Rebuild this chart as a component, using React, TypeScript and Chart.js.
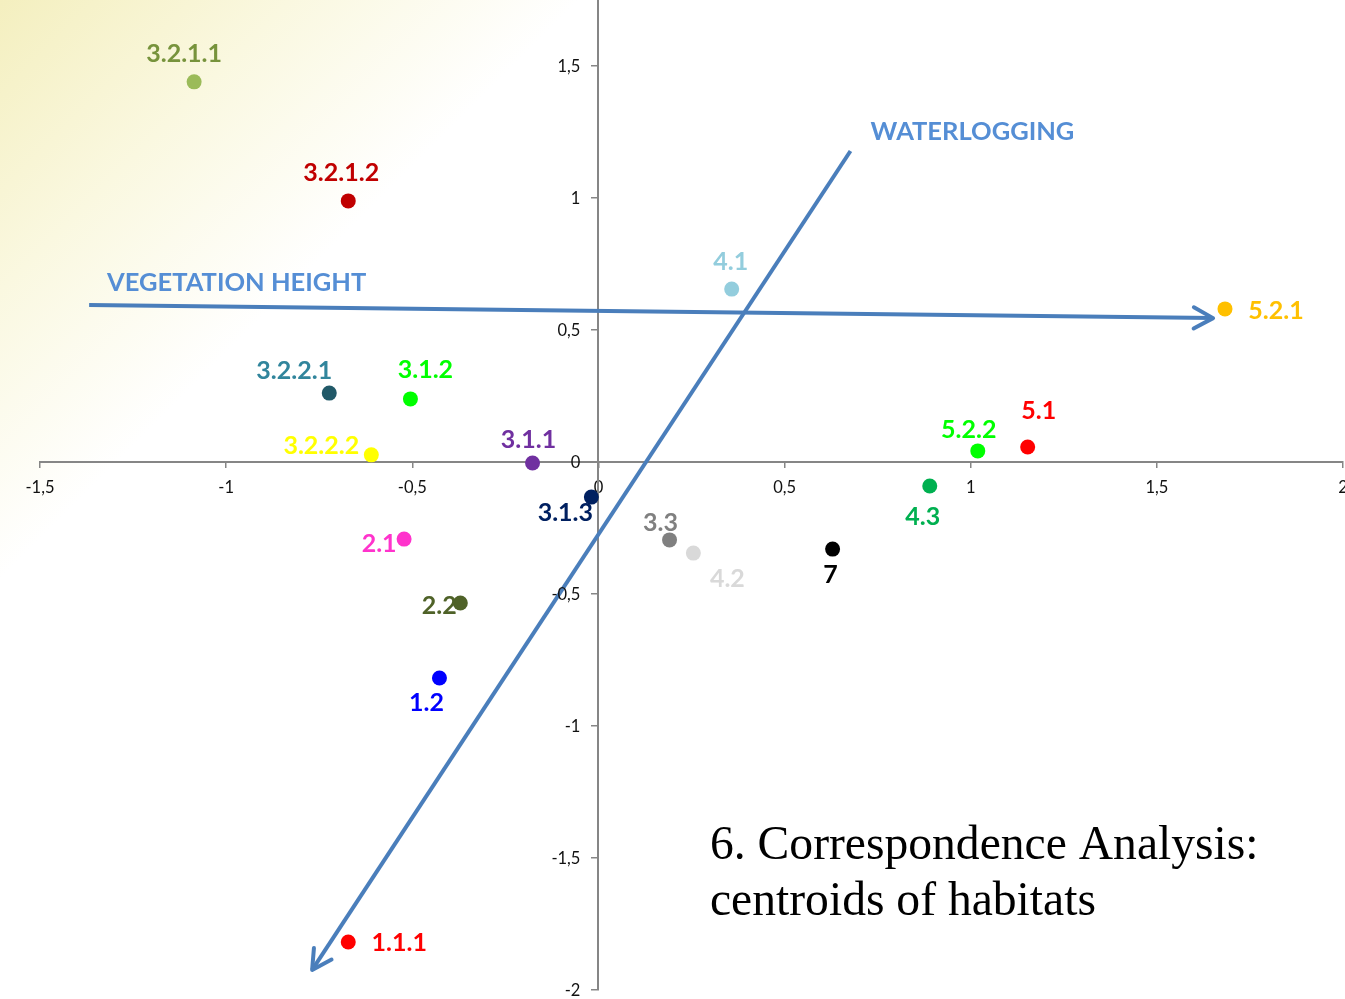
import React, { useEffect, useRef } from "react";
import { Chart, registerables } from "chart.js";

Chart.register(...registerables);

// ---- data ----
const habitatLabels = [
  "3.2.1.1", "3.2.1.2", "4.1", "5.2.1", "3.2.2.1", "3.1.2", "3.2.2.2", "3.1.1", "3.1.3",
  "5.2.2", "5.1", "4.3", "3.3", "4.2", "7", "2.1", "2.2", "1.2", "1.1.1",
];
const dim1 = [
  -1.086, -0.672, 0.358, 1.683, -0.723, -0.505, -0.61, -0.177, -0.019,
  1.019, 1.153, 0.89, 0.191, 0.255, 0.629, -0.522, -0.371, -0.427, -0.672,
];
const dim2 = [
  1.44, 0.989, 0.655, 0.58, 0.261, 0.239, 0.027, -0.004, -0.133,
  0.042, 0.057, -0.091, -0.295, -0.345, -0.33, -0.292, -0.534, -0.818, -1.818,
];
const vegetationArrowX = [-1.368, 1.651];
const vegetationArrowY = [0.595, 0.545];
const waterloggingArrowX = [0.677, -0.769];
const waterloggingArrowY = [1.178, -1.924];
const arrowNames = ["VEGETATION HEIGHT", "WATERLOGGING"];
const arrowNameX = [-1.32, 0.731];
const arrowNameY = [0.678, 1.25];
const xTickStep = 0.5;
const yTickStep = 0.5;
const titleLines = ["6. Correspondence Analysis:", "centroids of habitats"];

// ---- styles ----
const pointColors = [
  "#9BBB59", "#C00000", "#93CDDD", "#FFC000", "#215968", "#00FF00", "#FFFF00", "#7030A0", "#002060",
  "#00FF00", "#FF0000", "#00B050", "#808080", "#D9D9D9", "#000000", "#FF33CC", "#4F6228", "#0000FF", "#FF0000",
];
const labelColors = [
  "#77933C", "#C00000", "#93CDDD", "#FFC000", "#31859C", "#00FF00", "#FFFF00", "#7030A0", "#002060",
  "#00FF00", "#FF0000", "#00B050", "#808080", "#D9D9D9", "#000000", "#FF33CC", "#4F6228", "#0000FF", "#FF0000",
];
const labelOffsets: [number, number][] = [
  [-10, -28], [-7, -28], [-1, -27], [51, 2], [-35, -22], [15, -29], [-50, -9], [-4, -23], [-26, 16],
  [-9, -21], [11, -36], [-7, 31], [-9, -17], [34, 26], [-2, 26], [-25, 5], [-21, 3], [-13, 25], [51, 1],
];

const OFF = 20;
const W = 1345 + 2 * OFF;
const H = 999 + 2 * OFF;
const ARROW = "#4A7EBB";
const TICK_FONT = "16.5px Lato";
const fmt = (v: number) => String(Math.round(v * 100) / 100).replace(".", ",");

export default function App() {
  const ref = useRef<HTMLCanvasElement | null>(null);

  useEffect(() => {
    if (!ref.current) return;

    const bgPlugin = {
      id: "bg",
      beforeDraw(chart: any) {
        const ctx = chart.ctx;
        ctx.save();
        const g = ctx.createLinearGradient(OFF, OFF, OFF + 290, OFF + 290);
        g.addColorStop(0, "#F4EFBF");
        g.addColorStop(0.5, "#FAF8E0");
        g.addColorStop(1, "#FFFFFF");
        ctx.fillStyle = "#FFFFFF";
        ctx.fillRect(0, 0, W, H);
        ctx.fillStyle = g;
        ctx.fillRect(0, 0, W, H);
        ctx.restore();
      },
    };

    const overlayPlugin = {
      id: "overlay",
      afterDatasetsDraw(chart: any) {
        const ctx = chart.ctx;
        const xs = chart.scales.x;
        const ys = chart.scales.y;
        ctx.save();
        // y tick labels (left of the centred axis)
        const axisX = xs.getPixelForValue(0);
        ctx.font = TICK_FONT;
        ctx.fillStyle = "#111111";
        ctx.textAlign = "right";
        ctx.textBaseline = "middle";
        for (const t of ys.ticks) {
          ctx.fillText(fmt(t.value), axisX - 18, ys.getPixelForValue(t.value) + 1);
        }
        // arrowheads
        const heads = [
          [vegetationArrowX, vegetationArrowY],
          [waterloggingArrowX, waterloggingArrowY],
        ];
        ctx.strokeStyle = ARROW;
        ctx.lineWidth = 4;
        ctx.lineCap = "round";
        ctx.lineJoin = "round";
        for (const [ax, ay] of heads) {
          const x0 = xs.getPixelForValue(ax[0]);
          const y0 = ys.getPixelForValue(ay[0]);
          const x1 = xs.getPixelForValue(ax[1]);
          const y1 = ys.getPixelForValue(ay[1]);
          const ang = Math.atan2(y1 - y0, x1 - x0);
          const len = 22;
          const spread = 0.5;
          ctx.beginPath();
          ctx.moveTo(x1 - len * Math.cos(ang - spread), y1 - len * Math.sin(ang - spread));
          ctx.lineTo(x1, y1);
          ctx.lineTo(x1 - len * Math.cos(ang + spread), y1 - len * Math.sin(ang + spread));
          ctx.stroke();
        }
        // arrow names
        ctx.font = "bold 25.5px Lato";
        ctx.fillStyle = "#558ED5";
        ctx.textAlign = "left";
        ctx.textBaseline = "middle";
        arrowNames.forEach((n, i) => {
          ctx.fillText(n, xs.getPixelForValue(arrowNameX[i]), ys.getPixelForValue(arrowNameY[i]));
        });
        // point labels
        ctx.font = "bold 25px Lato";
        ctx.textAlign = "center";
        const meta = chart.getDatasetMeta(0);
        habitatLabels.forEach((lab, i) => {
          const el = meta.data[i];
          ctx.fillStyle = labelColors[i];
          ctx.fillText(lab, el.x + labelOffsets[i][0], el.y + labelOffsets[i][1]);
        });
        // title
        ctx.font = "47.6px 'Liberation Serif'";
        ctx.fillStyle = "#000000";
        ctx.textAlign = "left";
        ctx.textBaseline = "alphabetic";
        ctx.fillText(titleLines[0], OFF + 710, OFF + 859);
        ctx.fillText(titleLines[1], OFF + 710, OFF + 915);
        ctx.restore();
      },
    };

    const chart = new Chart(ref.current, {
      type: "scatter",
      data: {
        datasets: [
          {
            data: dim1.map((x, i) => ({ x, y: dim2[i] })),
            backgroundColor: pointColors,
            borderWidth: 0,
            pointRadius: 7.5,
            order: 1,
          },
          {
            data: vegetationArrowX.map((x, i) => ({ x, y: vegetationArrowY[i] })),
            showLine: true,
            borderColor: ARROW,
            borderWidth: 4,
            pointRadius: 0,
            order: 0,
          } as any,
          {
            data: waterloggingArrowX.map((x, i) => ({ x, y: waterloggingArrowY[i] })),
            showLine: true,
            borderColor: ARROW,
            borderWidth: 4,
            pointRadius: 0,
            order: 0,
          } as any,
        ],
      },
      options: {
        animation: false,
        responsive: false,
        devicePixelRatio: 1,
        layout: { padding: { left: OFF + 40, top: OFF, right: OFF + 2, bottom: OFF + 9 } },
        plugins: { legend: { display: false }, tooltip: { enabled: false } },
        scales: {
          x: {
            type: "linear",
            min: -1.5,
            max: 2,
            position: { y: 0 } as any,
            ticks: {
              stepSize: xTickStep,
              includeBounds: false,
              callback: (v: any) => fmt(Number(v)),
              color: "#111111",
              font: { family: "Lato", size: 16.5 },
              padding: 11,
              maxRotation: 0,
              autoSkip: false,
            },
            grid: { drawOnChartArea: false, drawTicks: true, tickLength: 5, color: "#868686", lineWidth: 1.5 },
            border: { display: true, color: "#868686", width: 2 },
          },
          y: {
            type: "linear",
            min: -2,
            max: 1.75,
            position: { x: 0 } as any,
            ticks: {
              stepSize: yTickStep,
              includeBounds: false,
              display: false,
              autoSkip: false,
            },
            grid: { drawOnChartArea: false, drawTicks: true, tickLength: 6, color: "#868686", lineWidth: 1.5 },
            border: { display: true, color: "#868686", width: 2 },
          },
        },
      },
      plugins: [bgPlugin, overlayPlugin],
    } as any);

    return () => chart.destroy();
  }, []);

  return (
    <div style={{ position: "absolute", left: 0, top: 0, width: 1345, height: 999, overflow: "hidden" }}>
      <canvas
        ref={ref}
        width={W}
        height={H}
        style={{ position: "absolute", left: -OFF, top: -OFF, width: W, height: H }}
      />
    </div>
  );
}
